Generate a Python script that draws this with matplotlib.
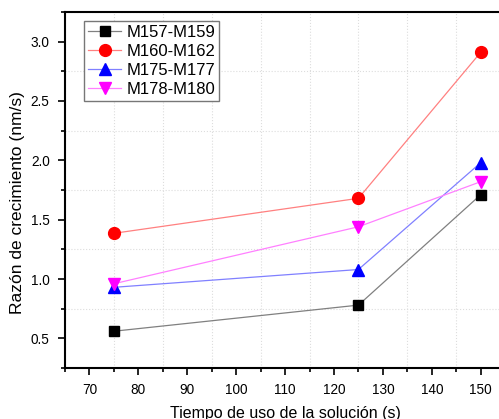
import matplotlib.pyplot as plt
from matplotlib.ticker import MultipleLocator

plt.rcParams['font.family'] = ['Liberation Sans', 'DejaVu Sans']

# data
tiempo = [75, 125, 150]
m157_m159 = [0.56, 0.78, 1.71]
m160_m162 = [1.385, 1.68, 2.91]
m175_m177 = [0.93, 1.08, 1.98]
m178_m180 = [0.96, 1.44, 1.82]

series = [
    ('M157-M159', m157_m159, 's', 7, 'black', '#808080'),
    ('M160-M162', m160_m162, 'o', 8.5, 'red', '#ff8080'),
    ('M175-M177', m175_m177, '^', 9, 'blue', '#8080ff'),
    ('M178-M180', m178_m180, 'v', 9, 'magenta', '#ff80ff'),
]

fig = plt.figure(figsize=(4.99, 4.19), dpi=100)
ax = fig.add_axes([0.1303, 0.1217, 0.882, 0.8497])

for name, vals, mk, ms, col, lcol in series:
    ax.plot(tiempo, vals, color=lcol, lw=0.9, marker=mk, ms=ms,
            mfc=col, mec=col, label=name)

ax.set_xlim(65, 155)
ax.set_ylim(0.25, 3.25)
ax.xaxis.set_major_locator(MultipleLocator(10))
ax.xaxis.set_minor_locator(MultipleLocator(5))
ax.yaxis.set_major_locator(MultipleLocator(0.5))
ax.yaxis.set_minor_locator(MultipleLocator(0.25))

# grid only on minor positions, like Origin
ax.grid(which='minor', color='#dddddd', ls=':', lw=0.8)
ax.set_axisbelow(True)

for s in ax.spines.values():
    s.set_linewidth(1.5)
ax.spines['right'].set_visible(False)
ax.tick_params(which='major', length=5, width=1.2, labelsize=9.8, pad=6)
ax.tick_params(which='minor', length=3, width=1.2)

ax.set_xlabel('Tiempo de uso de la solución (s)', fontsize=11.5, labelpad=6)
ax.set_ylabel('Razón de crecimiento (nm/s)', fontsize=12.5)
ax.yaxis.set_label_coords(-0.092, 0.465)

ax.legend(loc='upper left', bbox_to_anchor=(0.035, 0.985), fontsize=12,
          fancybox=False, edgecolor='#777777', framealpha=1,
          handlelength=2.0, borderpad=0.25, labelspacing=0.25,
          handletextpad=0.3, borderaxespad=0.2)

plt.savefig('out.png', dpi=100)
